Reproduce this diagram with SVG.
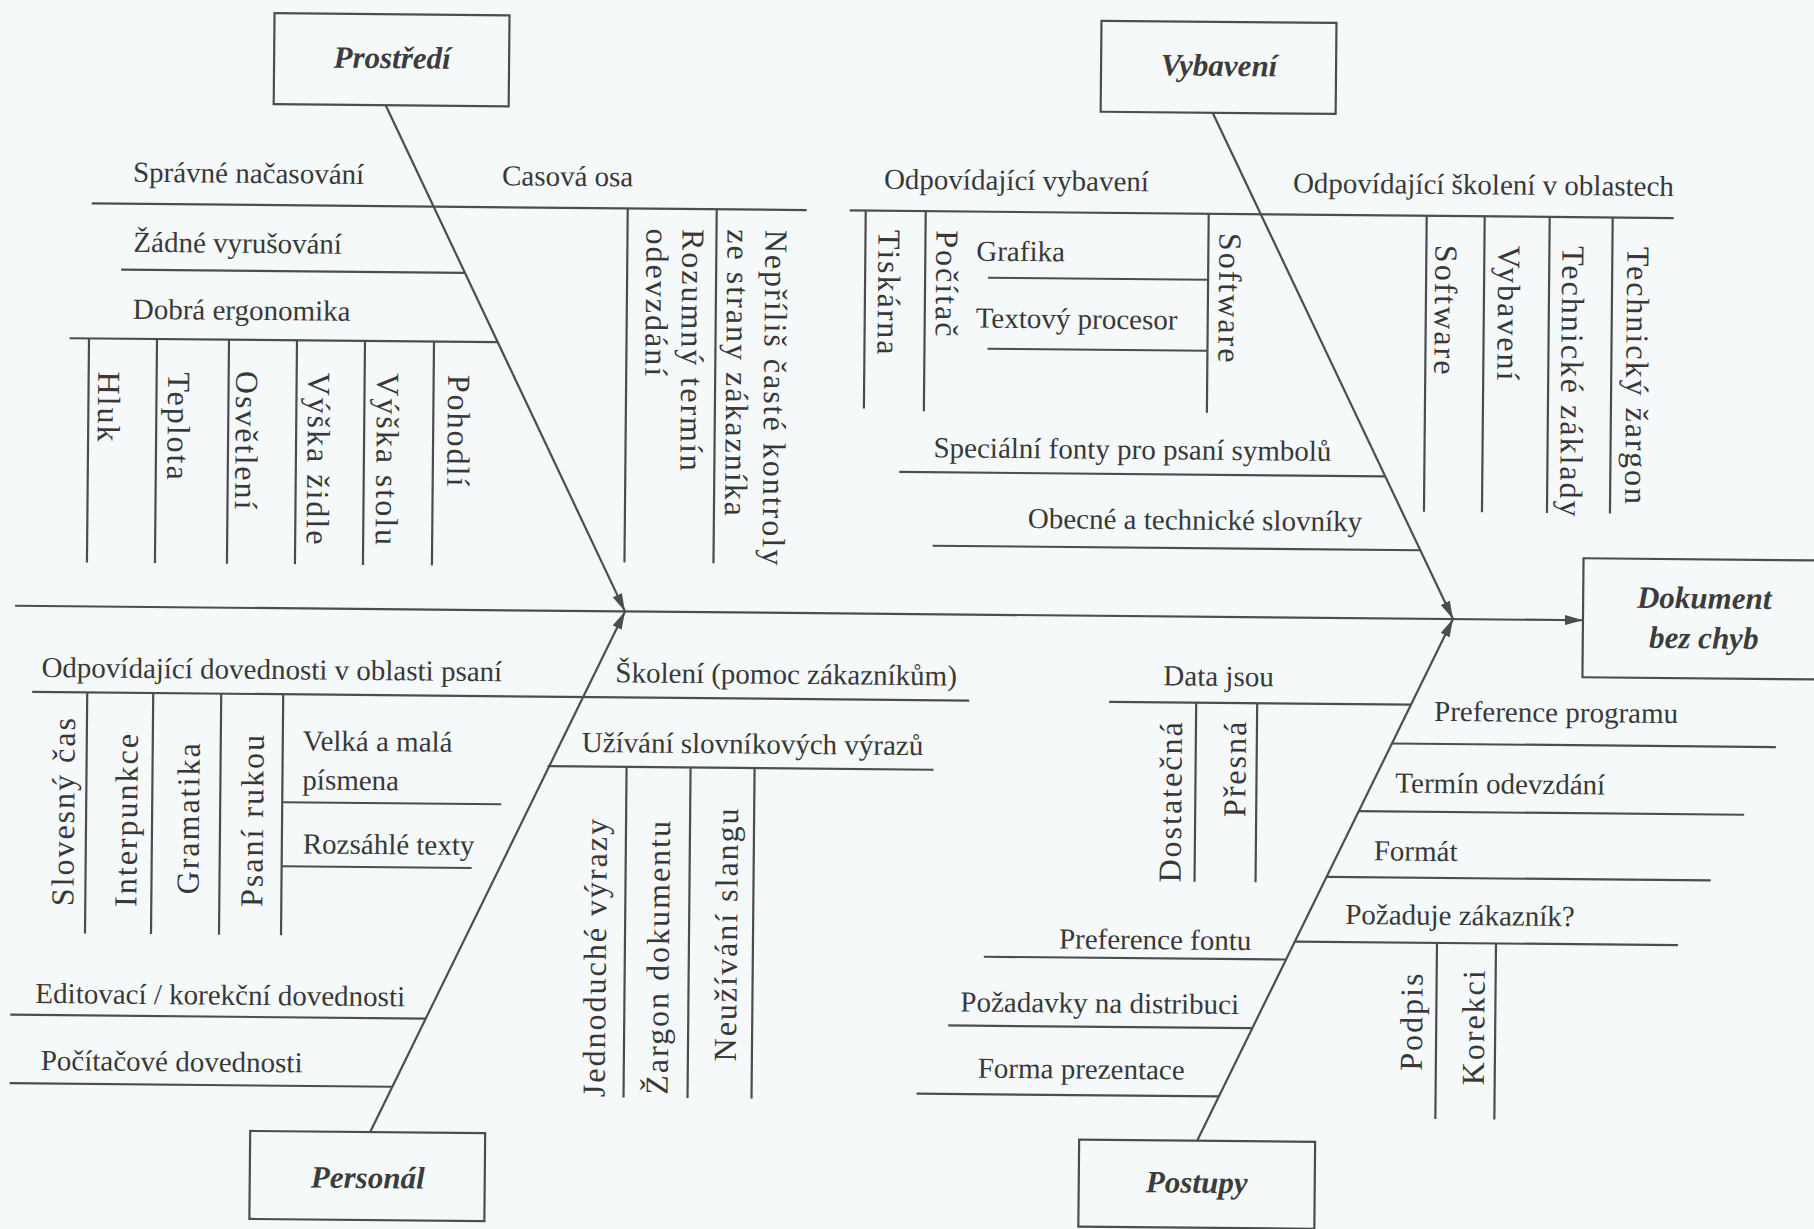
<svg xmlns="http://www.w3.org/2000/svg" width="1814" height="1229" viewBox="0 0 1814 1229">
<defs>
<style>
.ln{stroke:#4d4d4d;stroke-width:2.2;fill:none}
.box{fill:none;stroke:#4d4d4d;stroke-width:2.2}
.t{font-family:"Liberation Serif","Times New Roman",serif;font-size:29px;fill:#383838}
.v{font-family:"Liberation Serif","Times New Roman",serif;font-size:32px;letter-spacing:2px;fill:#383838}
.h{font-family:"Liberation Serif","Times New Roman",serif;font-size:31px;font-weight:bold;font-style:italic;fill:#3c3c3c;text-anchor:middle}
</style>
<marker id="ah" viewBox="0 0 18 10" refX="18" refY="5" markerWidth="18" markerHeight="10" markerUnits="userSpaceOnUse" orient="auto">
<path d="M0,0 L18,5 L0,10 Z" fill="#4d4d4d"/>
</marker>
</defs>
<rect x="0" y="0" width="1814" height="1229" fill="#f6f9fa"/>
<g transform="rotate(0.53 907 614)">

<g id="connectors">
<line class="ln" x1="15" y1="614" x2="1583" y2="614" marker-end="url(#ah)"/>
<line class="ln" x1="381" y1="110" x2="625" y2="614" marker-end="url(#ah)"/>
<line class="ln" x1="1208" y1="110" x2="1453" y2="614" marker-end="url(#ah)"/>
<line class="ln" x1="375" y1="1137" x2="625" y2="614" marker-end="url(#ah)"/>
<line class="ln" x1="1202" y1="1138" x2="1453" y2="614" marker-end="url(#ah)"/>
</g>

<g id="node-prostredi">
<rect class="box" x="269" y="19" width="235" height="91"/>
<text class="h" x="387" y="73">Prostředí</text>
</g>
<g id="node-vybaveni">
<rect class="box" x="1096" y="19" width="235" height="91"/>
<text class="h" x="1214" y="73">Vybavení</text>
</g>
<g id="node-personal">
<rect class="box" x="255" y="1137" width="235" height="88"/>
<text class="h" x="373" y="1193">Personál</text>
</g>
<g id="node-postupy">
<rect class="box" x="1084" y="1138" width="236" height="87"/>
<text class="h" x="1202" y="1190">Postupy</text>
</g>
<g id="node-dokument">
<rect class="box" x="1583" y="552" width="260" height="119"/>
<text class="h" x="1704" y="601">Dokument</text>
<text class="h" x="1704" y="641">bez chyb</text>
</g>

<g id="branches-prostredi">
<line class="ln" x1="88" y1="211" x2="803" y2="211"/>
<line class="ln" x1="118" y1="277" x2="462" y2="277"/>
<line class="ln" x1="67" y1="346" x2="495" y2="346"/>
<line class="ln" x1="86.5" y1="346" x2="86.5" y2="570"/>
<line class="ln" x1="154.5" y1="346" x2="154.5" y2="570"/>
<line class="ln" x1="226.5" y1="346" x2="226.5" y2="570"/>
<line class="ln" x1="294.5" y1="346" x2="294.5" y2="570"/>
<line class="ln" x1="362.5" y1="346" x2="362.5" y2="570"/>
<line class="ln" x1="431.5" y1="346" x2="431.5" y2="570"/>
<line class="ln" x1="624" y1="211" x2="624" y2="565"/>
<line class="ln" x1="713" y1="211" x2="713" y2="565"/>
<text class="t" x="129" y="189">Správné načasování</text>
<text class="t" x="498" y="189">Casová osa</text>
<text class="t" x="130" y="259">Žádné vyrušování</text>
<text class="t" x="130" y="326">Dobrá ergonomika</text>
<text class="v" transform="translate(96,379) rotate(90)">Hluk</text>
<text class="v" transform="translate(166,379) rotate(90)">Teplota</text>
<text class="v" transform="translate(234,377) rotate(90)">Osvětlení</text>
<text class="v" transform="translate(306,378) rotate(90)">Výška židle</text>
<text class="v" transform="translate(375,378) rotate(90)">Výška stolu</text>
<text class="v" transform="translate(446,379) rotate(90)">Pohodlí</text>
<text class="v" transform="translate(679,231) rotate(90)">Rozumný termín</text>
<text class="v" transform="translate(643,231) rotate(90)">odevzdání</text>
<text class="v" transform="translate(762,231) rotate(90)">Nepříliš časté kontroly</text>
<text class="v" transform="translate(724,231) rotate(90)">ze strany zákazníka</text>
</g>

<g id="branches-vybaveni">
<line class="ln" x1="846" y1="211" x2="1670" y2="211"/>
<line class="ln" x1="862" y1="211" x2="862" y2="409"/>
<line class="ln" x1="922" y1="211" x2="922" y2="411"/>
<line class="ln" x1="1205" y1="211" x2="1205" y2="410"/>
<line class="ln" x1="985" y1="277" x2="1205" y2="277"/>
<line class="ln" x1="985" y1="348" x2="1205" y2="348"/>
<line class="ln" x1="1423" y1="211" x2="1423" y2="507"/>
<line class="ln" x1="1481" y1="211" x2="1481" y2="507"/>
<line class="ln" x1="1546" y1="211" x2="1546" y2="507"/>
<line class="ln" x1="1609" y1="211" x2="1609" y2="507"/>
<line class="ln" x1="898" y1="472" x2="1384" y2="472"/>
<line class="ln" x1="932" y1="545.5" x2="1420" y2="545.5"/>
<text class="t" x="880" y="189">Odpovídající vybavení</text>
<text class="t" x="1289" y="189">Odpovídající školení v oblastech</text>
<text class="t" x="973" y="260">Grafika</text>
<text class="t" x="973" y="327">Textový procesor</text>
<text class="t" x="932" y="457">Speciální fonty pro psaní symbolů</text>
<text class="t" x="1027" y="527">Obecné a technické slovníky</text>
<text class="v" transform="translate(875,230) rotate(90)">Tiskárna</text>
<text class="v" transform="translate(933,230) rotate(90)">Počítač</text>
<text class="v" transform="translate(1216,230) rotate(90)">Software</text>
<text class="v" transform="translate(1432,240) rotate(90)">Software</text>
<text class="v" transform="translate(1495,240) rotate(90)">Vybavení</text>
<text class="v" transform="translate(1559,240) rotate(90)">Technické základy</text>
<text class="v" transform="translate(1624,240) rotate(90)">Technický žargon</text>
</g>

<g id="branches-personal">
<line class="ln" x1="33" y1="700" x2="970" y2="700"/>
<line class="ln" x1="88" y1="700" x2="88" y2="941"/>
<line class="ln" x1="154" y1="700" x2="154" y2="941"/>
<line class="ln" x1="222" y1="700" x2="222" y2="941"/>
<line class="ln" x1="284" y1="700" x2="284" y2="941"/>
<line class="ln" x1="284" y1="808" x2="503" y2="808"/>
<line class="ln" x1="284" y1="872" x2="474" y2="872"/>
<line class="ln" x1="14" y1="1023" x2="429" y2="1023"/>
<line class="ln" x1="14" y1="1091.5" x2="397" y2="1091.5"/>
<line class="ln" x1="549" y1="769.5" x2="935" y2="769.5"/>
<line class="ln" x1="628" y1="769.5" x2="628" y2="1100"/>
<line class="ln" x1="692" y1="769.5" x2="692" y2="1100"/>
<line class="ln" x1="756" y1="769.5" x2="756" y2="1100"/>
<text class="t" x="42" y="685">Odpovídající dovednosti v oblasti psaní</text>
<text class="t" x="616" y="685">Školení (pomoc zákazníkům)</text>
<text class="t" x="304" y="756">Velká a malá</text>
<text class="t" x="304" y="795">písmena</text>
<text class="t" x="305" y="859">Rozsáhlé texty</text>
<text class="t" x="39" y="1011">Editovací / korekční dovednosti</text>
<text class="t" x="45" y="1078">Počítačové dovednosti</text>
<text class="t" x="583" y="755">Užívání slovníkových výrazů</text>
<text class="v" transform="translate(76,914) rotate(-90)">Slovesný čas</text>
<text class="v" transform="translate(139,914) rotate(-90)">Interpunkce</text>
<text class="v" transform="translate(201,901) rotate(-90)">Gramatika</text>
<text class="v" transform="translate(265,913) rotate(-90)">Psaní rukou</text>
<text class="v" transform="translate(609,1100) rotate(-90)">Jednoduché výrazy</text>
<text class="v" transform="translate(672,1097) rotate(-90)">Žargon dokumentu</text>
<text class="v" transform="translate(740,1063) rotate(-90)">Neužívání slangu</text>
</g>

<g id="branches-postupy">
<line class="ln" x1="1110" y1="700" x2="1412" y2="700"/>
<line class="ln" x1="1197" y1="700" x2="1197" y2="879"/>
<line class="ln" x1="1258" y1="700" x2="1258" y2="879"/>
<line class="ln" x1="1393" y1="739" x2="1777" y2="739"/>
<line class="ln" x1="1360" y1="807" x2="1746" y2="807"/>
<line class="ln" x1="1329" y1="873" x2="1713" y2="873"/>
<line class="ln" x1="1298" y1="938" x2="1681" y2="938"/>
<line class="ln" x1="1440" y1="938" x2="1440" y2="1114"/>
<line class="ln" x1="1499" y1="938" x2="1499" y2="1114"/>
<line class="ln" x1="987" y1="956" x2="1289" y2="956"/>
<line class="ln" x1="952" y1="1025" x2="1256" y2="1025"/>
<line class="ln" x1="921" y1="1093.5" x2="1223" y2="1093.5"/>
<text class="t" x="1164" y="683">Data jsou</text>
<text class="t" x="1435" y="716">Preference programu</text>
<text class="t" x="1397" y="788">Termín odevzdání</text>
<text class="t" x="1376" y="856">Formát</text>
<text class="t" x="1348" y="920">Požaduje zákazník?</text>
<text class="t" x="1062" y="947">Preference fontu</text>
<text class="t" x="964" y="1011">Požadavky na distribuci</text>
<text class="t" x="982" y="1077">Forma prezentace</text>
<text class="v" transform="translate(1183,880) rotate(-90)">Dostatečná</text>
<text class="v" transform="translate(1247,814) rotate(-90)">Přesná</text>
<text class="v" transform="translate(1426,1066) rotate(-90)">Podpis</text>
<text class="v" transform="translate(1488,1080) rotate(-90)">Korekci</text>
</g>

</g>
</svg>
